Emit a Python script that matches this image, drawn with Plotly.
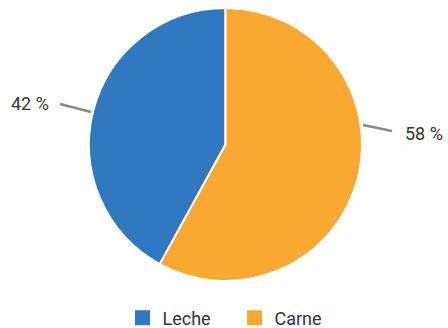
import plotly.graph_objects as go

labels = ["Leche", "Carne"]
values = [42, 58]
colors = ["#3078c0", "#fba833"]
pct_text = ["42 %", "58 %"]

W, H = 448, 328
ML, MR, MT, MB = 3, 0, 8, 47
PH = H - MT - MB


def px(x):
    return (x - ML) / (W - ML - MR)


def py(y):
    return 1 - (y - MT) / PH


start_rot = -360.0 * values[0] / sum(values)

fig = go.Figure(go.Pie(
    labels=labels, values=values, sort=False, direction="clockwise",
    rotation=start_rot, marker=dict(colors=colors, line=dict(color="white", width=2)),
    textinfo="none", hoverinfo="label+percent", showlegend=False,
))

# legend entries with larger square swatches
for name, col in zip(labels, colors):
    fig.add_trace(go.Scatter(x=[None], y=[None], mode="markers", name=name,
                             marker=dict(symbol="square", size=15, color=col),
                             hoverinfo="skip", showlegend=True))

# leader lines and labels
lines = [((60, 104), (91, 112)), ((363, 125), (392, 131))]
for (x0, y0), (x1, y1) in lines:
    fig.add_shape(type="line", xref="paper", yref="paper",
                  x0=px(x0), y0=py(y0), x1=px(x1), y1=py(y1),
                  line=dict(color="#8a8a8a", width=2.5))

fig.add_annotation(x=px(51), y=py(103), xref="paper", yref="paper",
                   text=pct_text[0], showarrow=False, xanchor="right", yanchor="middle",
                   font=dict(size=18, color="#333333"))
fig.add_annotation(x=px(403), y=py(133), xref="paper", yref="paper",
                   text=pct_text[1], showarrow=False, xanchor="left", yanchor="middle",
                   font=dict(size=18, color="#333333"))

fig.update_layout(
    width=W, height=H,
    margin=dict(l=ML, r=MR, t=MT, b=MB, autoexpand=False),
    paper_bgcolor="white", plot_bgcolor="white",
    font=dict(family="Roboto, 'Noto Sans', sans-serif", size=18, color="#333333"),
    xaxis=dict(visible=False), yaxis=dict(visible=False),
    legend=dict(orientation="h", x=px(122.5), xanchor="left", y=py(318), yanchor="middle",
                entrywidth=67, entrywidthmode="pixels", font=dict(size=18, color="#333333"),
                itemclick=False, itemdoubleclick=False),
)

fig.write_html("out.html", config={"displayModeBar": False},
               post_script="document.body.style.margin='0';document.body.style.overflow='hidden';")
